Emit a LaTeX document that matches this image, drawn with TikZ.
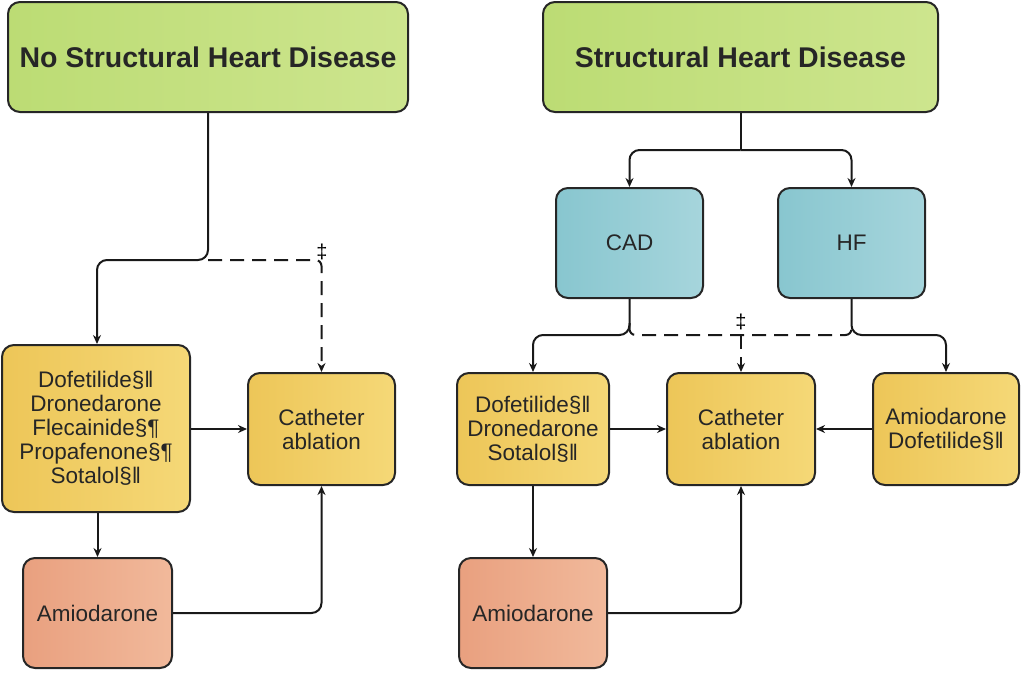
\documentclass[tikz,border=0pt]{standalone}
\usepackage{fontspec}
\setmainfont{Liberation Sans}
\usetikzlibrary{arrows.meta,calc}
\definecolor{gfill}{HTML}{BCDC74}
\definecolor{gfill2}{HTML}{CDE58E}
\definecolor{bfill}{HTML}{88C6CF}
\definecolor{bfill2}{HTML}{A6D5DC}
\definecolor{yfill}{HTML}{EDC658}
\definecolor{yfill2}{HTML}{F5D877}
\definecolor{ofill}{HTML}{E9A07F}
\definecolor{ofill2}{HTML}{F1B99B}
\begin{document}
\begin{tikzpicture}[x=1pt,y=-1pt,
  box/.style={draw=black!85,line width=2pt,rounded corners=12pt,inner sep=0pt,align=center,text=black!85},
  green/.style={box,left color=gfill,right color=gfill2,font=\fontsize{28.5}{32}\selectfont\bfseries},
  blue/.style={box,left color=bfill,right color=bfill2,font=\fontsize{22.5}{24}\selectfont},
  yel/.style={box,left color=yfill,right color=yfill2,font=\fontsize{22.5}{24}\selectfont},
  ora/.style={box,left color=ofill,right color=ofill2,font=\fontsize{22.5}{24}\selectfont},
  conn/.style={line width=2pt,draw=black!90,rounded corners=10pt},
  arr/.style={conn,-{Stealth[length=9pt,width=8pt]}},
  dsh/.style={dash pattern=on 14pt off 8pt},
  dag/.style={font=\fontsize{20}{22}\selectfont,inner sep=0pt}]
\useasboundingbox (0,0) rectangle (1024,675);
% nodes
\node[green,minimum width=400pt,minimum height=110pt] (nshd) at (208,57) {No Structural Heart Disease};
\node[green,minimum width=395pt,minimum height=110pt] (shd) at (740.5,57) {Structural Heart Disease};
\node[blue,minimum width=147pt,minimum height=110pt] (cad) at (629.5,243) {CAD};
\node[blue,minimum width=147pt,minimum height=110pt] (hf) at (851.5,243) {HF};
\node[yel,minimum width=188pt,minimum height=167pt] (ld) at (96,428.5) {Dofetilide§‖\\Dronedarone\\Flecainide§¶\\Propafenone§¶\\Sotalol§‖};
\node[yel,minimum width=147pt,minimum height=112pt] (lc) at (321.5,429) {Catheter\\ablation};
\node[ora,minimum width=149pt,minimum height=110pt] (la) at (97.5,613) {Amiodarone};
\node[yel,minimum width=152pt,minimum height=112pt] (rd) at (533,429) {Dofetilide§‖\\Dronedarone\\Sotalol§‖};
\node[yel,minimum width=148pt,minimum height=112pt] (rc) at (741,429) {Catheter\\ablation};
\node[yel,minimum width=146pt,minimum height=112pt] (rr) at (946,429) {Amiodarone\\Dofetilide§‖};
\node[ora,minimum width=148pt,minimum height=110pt] (ra) at (533,613) {Amiodarone};
% dagger labels
\node[dag] (dl) at (322,252) {‡};
\node[dag] (dr) at (741,322) {‡};
% coordinates
\coordinate (lsplit) at (208,260);
\coordinate (rsplit) at (740.5,150);
\coordinate (cadj) at (629.5,335);
\coordinate (hfj) at (851.5,335);
% left side
\draw[arr] (nshd.south -| lsplit) -- (lsplit) -- (97,260) -- (ld.north -| 97,0);
\draw[arr,dsh,rounded corners=6pt] (lsplit) -- (321.5,260) -- (lc.north);
\draw[arr] (ld.east |- lc.west) -- (lc.west);
\draw[arr] (ld.south -| la.north) -- (la.north);
\draw[arr] (la.east) -- (321.5,613) -- (lc.south);
% right side
\draw[conn] (shd.south) -- (rsplit);
\draw[arr] (rsplit) -- (629.5,150) -- (cad.north);
\draw[arr] (rsplit) -- (851.5,150) -- (hf.north);
\draw[arr] (cad.south) -- (cadj) -- (533,335) -- (rd.north);
\draw[arr] (hf.south) -- (hfj) -- (946,335) -- (rr.north);
\draw[conn,dsh,rounded corners=6pt] ($(cadj)+(0,-12)$) -- (cadj) -- (hfj) -- ($(hfj)+(0,-12)$);
\draw[arr,dsh] (741,335) -- (rc.north);
\draw[arr] (rd.east) -- (rc.west);
\draw[arr] (rr.west) -- (rc.east);
\draw[arr] (rd.south) -- (ra.north);
\draw[arr] (ra.east) -- (741,613) -- (rc.south);
\end{tikzpicture}
\end{document}
